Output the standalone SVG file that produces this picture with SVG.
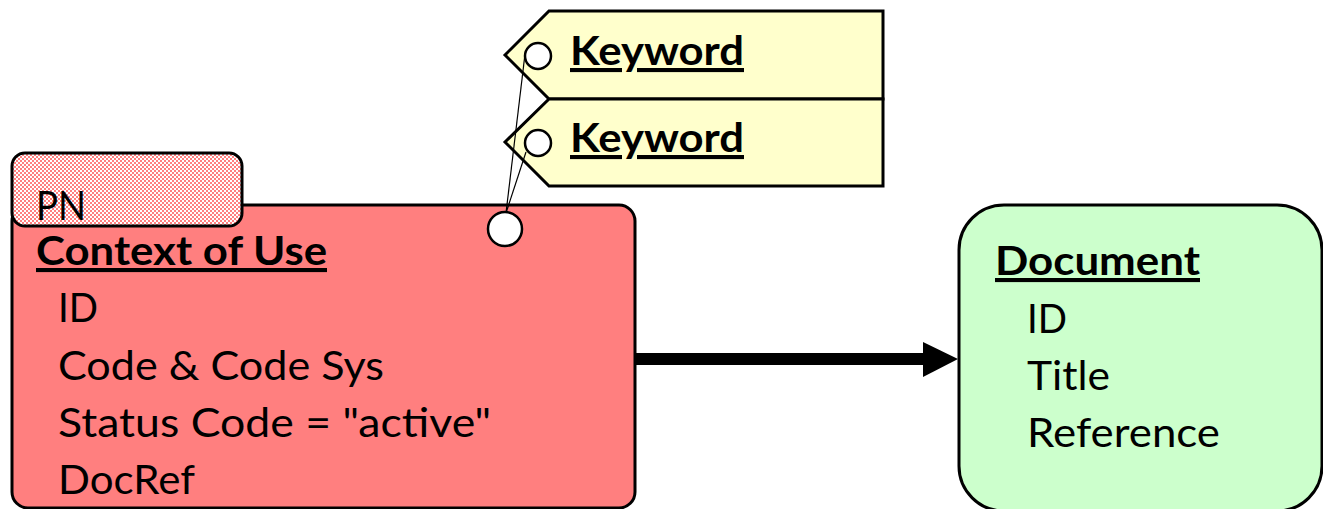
<svg xmlns="http://www.w3.org/2000/svg" width="1323" height="509" viewBox="0 0 1323 509">
  <style>
    .box { stroke: #000; stroke-width: 3; }
    .thin { stroke: #000; stroke-width: 1.2; fill: none; }
    .port { fill: #fff; stroke: #000; stroke-width: 2.5; }
    .t { font-family: Lato, "Liberation Sans", sans-serif; font-size: 41px; fill: #000; }
    .b { font-weight: bold; text-decoration: underline; }
  </style>
  <defs>
    <pattern id="check" width="4" height="4" patternUnits="userSpaceOnUse">
      <rect width="4" height="4" fill="#fff"/>
      <rect width="2" height="2" fill="#ff7f7f"/>
      <rect x="2" y="2" width="2" height="2" fill="#ff7f7f"/>
    </pattern>
  </defs>

  <!-- keyword tags -->
  <g id="keyword1">
    <polygon class="box" points="505,55 549,11 883,11 883,99 549,99" fill="#ffffcc" stroke-width="2.5"/>
    <circle class="port" cx="538" cy="56" r="13"/>
    <text class="t b" x="570" y="65" textLength="174" lengthAdjust="spacingAndGlyphs">Keyword</text>
  </g>
  <g id="keyword2">
    <polygon class="box" points="505,142 549,99 883,99 883,186 549,186" fill="#ffffcc" stroke-width="2.5"/>
    <circle class="port" cx="538" cy="143" r="13"/>
    <text class="t b" x="570" y="152" textLength="174" lengthAdjust="spacingAndGlyphs">Keyword</text>
  </g>

  <!-- context of use -->
  <g id="context">
    <rect class="box" x="12" y="205" width="623" height="303" rx="16" fill="#ff7f7f"/>
    <rect class="box" x="12" y="153" width="230" height="73" rx="13" fill="url(#check)"/>
    <text class="t" x="36" y="220" textLength="50" lengthAdjust="spacingAndGlyphs">PN</text>
    <text class="t b" x="36" y="265" textLength="291" lengthAdjust="spacingAndGlyphs">Context of Use</text>
    <text class="t" x="58" y="322" textLength="40" lengthAdjust="spacingAndGlyphs">ID</text>
    <text class="t" x="58" y="380" textLength="326" lengthAdjust="spacingAndGlyphs">Code &amp; Code Sys</text>
    <text class="t" x="58" y="437" textLength="433" lengthAdjust="spacingAndGlyphs">Status Code = "active"</text>
    <text class="t" x="58" y="494" textLength="137" lengthAdjust="spacingAndGlyphs">DocRef</text>
  </g>

  <!-- document -->
  <g id="document">
    <rect class="box" x="959" y="205" width="363" height="306" rx="45" fill="#ccffcc"/>
    <text class="t b" x="995" y="275" textLength="205" lengthAdjust="spacingAndGlyphs">Document</text>
    <text class="t" x="1027" y="333" textLength="40" lengthAdjust="spacingAndGlyphs">ID</text>
    <text class="t" x="1027" y="390" textLength="83" lengthAdjust="spacingAndGlyphs">Title</text>
    <text class="t" x="1027" y="447" textLength="193" lengthAdjust="spacingAndGlyphs">Reference</text>
  </g>

  <!-- connectors -->
  <g id="connectors">
    <line class="thin" x1="506" y1="213" x2="525" y2="54"/>
    <line class="thin" x1="506" y1="213" x2="526" y2="152"/>
    <line x1="635" y1="359" x2="925" y2="359" stroke="#000" stroke-width="12"/>
    <polygon points="923,342 958,359 923,377" fill="#000"/>
  </g>

  <g id="port">
    <circle class="port" cx="505" cy="229" r="17"/>
  </g>
</svg>
